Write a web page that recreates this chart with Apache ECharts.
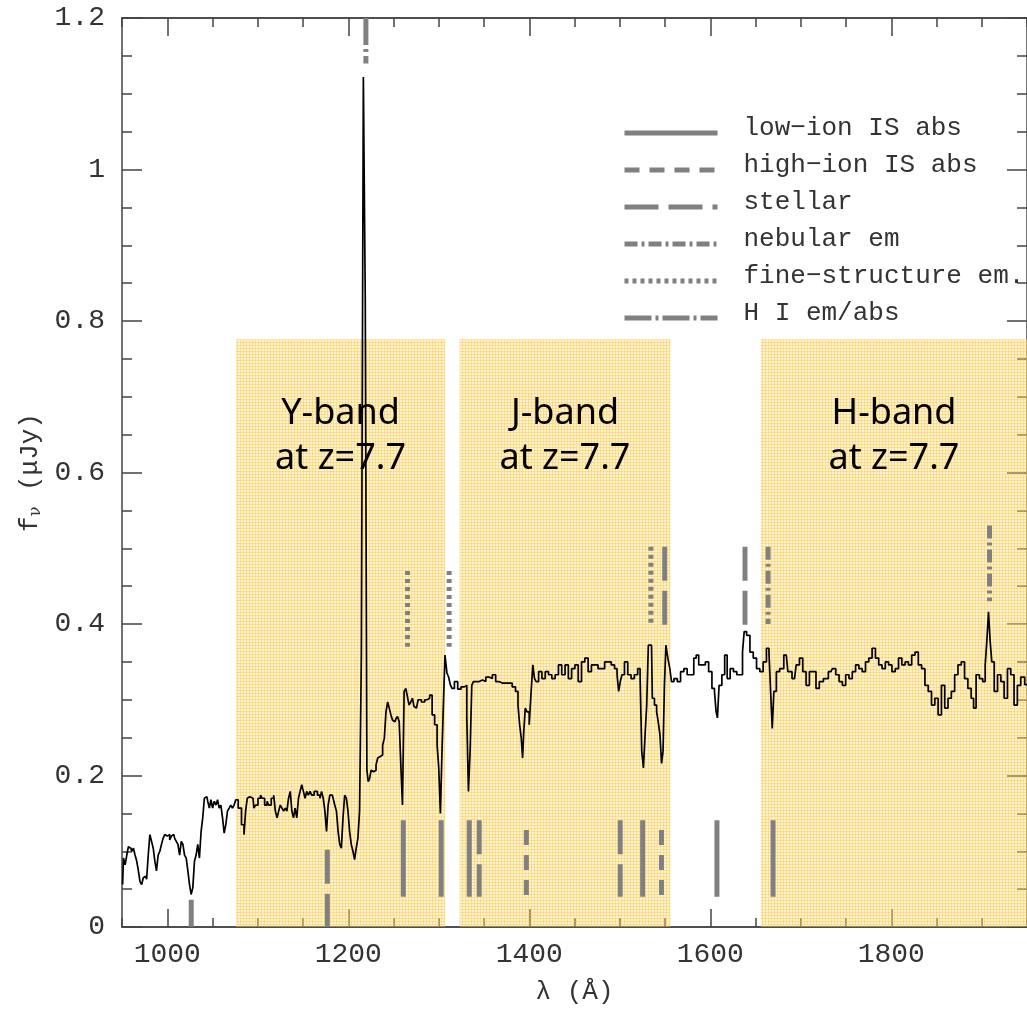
<!DOCTYPE html>
<html>
<head>
<meta charset="utf-8">
<script src="https://cdn.jsdelivr.net/npm/echarts@6/dist/echarts.min.js"></script>
<style>
html, body { margin: 0; padding: 0; background: #fff; overflow: hidden; }
#chart { width: 1027px; height: 1010px; }
</style>
</head>
<body>
<div id="chart"></div>
<script>
// spectrum, [wavelength (Å), f_nu (μJy)]
const spectrum = [
  [950.7,0.056],[952.5,0.091],[954.4,0.082],[956.2,0.095],[958.0,0.106],[959.8,0.104],[961.7,0.100],[963.5,0.104],
  [965.3,0.095],[967.2,0.087],[969.0,0.074],[970.8,0.060],[972.6,0.056],[974.4,0.065],[976.3,0.067],[978.1,0.063],
  [979.9,0.095],[981.7,0.122],[983.6,0.113],[985.4,0.104],[987.2,0.087],[989.0,0.074],[990.9,0.095],[992.7,0.100],
  [994.5,0.109],[996.3,0.117],[998.2,0.122],[1000.0,0.120],[1001.8,0.122],[1003.6,0.115],[1005.5,0.120],[1007.3,0.122],
  [1009.1,0.117],[1010.9,0.113],[1012.7,0.109],[1014.6,0.095],[1016.4,0.113],[1018.2,0.109],[1020.0,0.095],[1021.9,0.091],
  [1023.7,0.074],[1025.5,0.056],[1027.3,0.043],[1029.2,0.052],[1031.0,0.087],[1032.8,0.095],[1034.6,0.109],[1036.5,0.091],
  [1038.3,0.126],[1040.1,0.144],[1041.9,0.170],[1043.8,0.172],[1045.6,0.166],[1047.4,0.157],[1049.2,0.168],[1051.0,0.157],
  [1052.9,0.166],[1054.7,0.161],[1056.5,0.168],[1058.3,0.157],[1060.2,0.161],[1062.0,0.144],[1063.8,0.124],[1065.6,0.135],
  [1067.5,0.153],[1069.3,0.157],[1071.1,0.161],[1072.9,0.157],[1074.8,0.161],[1076.6,0.168],[1080.2,0.157],[1083.9,0.135],
  [1085.7,0.122],[1087.5,0.153],[1089.3,0.170],[1091.2,0.172],[1094.8,0.170],[1096.6,0.157],[1098.5,0.161],[1102.1,0.170],
  [1103.9,0.174],[1105.8,0.170],[1109.4,0.161],[1111.2,0.166],[1113.1,0.161],[1116.7,0.170],[1118.5,0.174],[1120.4,0.153],
  [1122.2,0.144],[1124.0,0.153],[1125.8,0.161],[1127.7,0.157],[1129.5,0.153],[1131.3,0.157],[1133.1,0.153],[1135.0,0.170],
  [1136.8,0.179],[1138.6,0.153],[1140.4,0.144],[1142.2,0.157],[1144.1,0.144],[1145.9,0.170],[1147.7,0.179],[1149.5,0.188],
  [1151.4,0.179],[1153.2,0.170],[1155.0,0.179],[1156.8,0.174],[1158.7,0.179],[1160.5,0.174],[1164.1,0.179],[1167.8,0.174],
  [1169.6,0.170],[1171.4,0.179],[1173.3,0.170],[1175.1,0.153],[1176.9,0.126],[1178.7,0.161],[1180.6,0.174],[1182.4,0.174],
  [1184.2,0.170],[1186.0,0.161],[1187.9,0.153],[1189.7,0.126],[1191.5,0.109],[1193.3,0.104],[1195.1,0.144],[1197.0,0.174],
  [1198.8,0.170],[1200.6,0.153],[1202.4,0.126],[1204.3,0.109],[1206.1,0.100],[1207.9,0.089],[1209.7,0.104],[1211.6,0.117],
  [1213.4,0.153],[1215.6,0.359],[1217.8,1.122],[1219.8,0.830],[1221.4,0.207],[1222.8,0.192],[1224.4,0.196],[1226.2,0.207],
  [1228.0,0.205],[1229.8,0.207],[1231.6,0.214],[1233.5,0.223],[1235.3,0.225],[1237.1,0.227],[1238.9,0.240],[1240.8,0.249],
  [1242.6,0.284],[1244.4,0.297],[1246.2,0.289],[1248.1,0.280],[1249.9,0.273],[1251.7,0.271],[1253.5,0.275],[1255.4,0.278],
  [1257.2,0.271],[1259.0,0.214],[1260.8,0.161],[1262.7,0.311],[1264.5,0.315],[1266.3,0.304],[1268.1,0.293],[1270.0,0.297],
  [1271.8,0.302],[1273.6,0.291],[1275.4,0.289],[1279.0,0.300],[1282.7,0.297],[1286.3,0.300],[1288.1,0.302],[1291.8,0.306],
  [1293.6,0.280],[1297.3,0.267],[1299.1,0.240],[1300.9,0.210],[1302.7,0.150],[1304.5,0.232],[1305.6,0.290],[1308.2,0.359],
  [1310.0,0.335],[1311.8,0.330],[1313.7,0.320],[1315.5,0.315],[1319.1,0.324],[1322.8,0.314],[1326.4,0.317],[1330.1,0.319],
  [1331.9,0.276],[1333.7,0.179],[1335.6,0.232],[1337.4,0.319],[1339.2,0.324],[1342.9,0.324],[1346.5,0.326],[1350.2,0.324],
  [1353.8,0.330],[1357.4,0.328],[1361.1,0.333],[1364.7,0.324],[1368.4,0.322],[1372.0,0.322],[1375.7,0.322],[1379.3,0.322],
  [1383.0,0.317],[1386.6,0.311],[1388.5,0.293],[1390.3,0.267],[1392.1,0.249],[1393.2,0.223],[1394.7,0.258],[1396.5,0.289],
  [1398.7,0.284],[1401.2,0.267],[1403.0,0.311],[1404.9,0.346],[1406.7,0.328],[1408.5,0.324],[1412.2,0.337],[1415.8,0.328],
  [1419.5,0.337],[1423.1,0.333],[1426.8,0.328],[1430.4,0.333],[1434.1,0.346],[1437.7,0.333],[1441.4,0.346],[1445.0,0.328],
  [1448.6,0.341],[1452.3,0.346],[1455.9,0.324],[1459.6,0.350],[1463.2,0.355],[1466.9,0.337],[1470.5,0.346],[1474.2,0.346],
  [1477.8,0.341],[1481.5,0.341],[1485.1,0.350],[1488.8,0.350],[1492.4,0.346],[1496.1,0.341],[1497.9,0.333],[1499.7,0.311],
  [1501.5,0.324],[1503.4,0.333],[1507.0,0.350],[1510.7,0.333],[1514.3,0.328],[1518.0,0.333],[1521.6,0.341],[1523.4,0.328],
  [1525.2,0.232],[1527.1,0.210],[1528.9,0.254],[1530.7,0.293],[1532.5,0.372],[1535.1,0.372],[1536.9,0.302],[1539.8,0.293],
  [1541.7,0.284],[1543.5,0.270],[1545.3,0.254],[1547.1,0.216],[1548.6,0.232],[1550.1,0.319],[1551.9,0.372],[1554.4,0.355],
  [1556.3,0.341],[1558.1,0.324],[1561.7,0.328],[1565.4,0.324],[1569.0,0.337],[1572.7,0.341],[1576.3,0.333],[1580.0,0.333],
  [1583.6,0.355],[1585.4,0.359],[1589.1,0.346],[1592.7,0.346],[1596.4,0.350],[1600.0,0.337],[1603.7,0.315],[1605.6,0.311],
  [1607.4,0.284],[1608.5,0.276],[1611.0,0.319],[1614.7,0.333],[1617.2,0.359],[1620.2,0.328],[1623.8,0.341],[1627.5,0.337],
  [1631.1,0.333],[1634.7,0.333],[1636.6,0.363],[1638.4,0.390],[1642.0,0.385],[1645.7,0.363],[1649.3,0.355],[1653.0,0.341],
  [1656.6,0.337],[1660.3,0.350],[1663.9,0.368],[1665.8,0.363],[1667.6,0.311],[1669.4,0.262],[1671.2,0.311],[1674.9,0.337],
  [1678.5,0.341],[1684.0,0.359],[1687.6,0.337],[1693.1,0.328],[1696.8,0.346],[1700.4,0.355],[1704.1,0.337],[1707.7,0.319],
  [1711.4,0.337],[1715.0,0.337],[1718.7,0.315],[1722.3,0.324],[1727.8,0.328],[1733.2,0.337],[1736.9,0.341],[1740.5,0.333],
  [1744.2,0.324],[1747.8,0.319],[1751.5,0.333],[1755.1,0.328],[1758.8,0.337],[1762.4,0.346],[1766.1,0.341],[1769.7,0.337],
  [1773.4,0.350],[1777.0,0.355],[1780.7,0.368],[1784.3,0.355],[1788.0,0.346],[1791.6,0.341],[1795.3,0.350],[1798.9,0.346],
  [1802.6,0.337],[1806.2,0.341],[1809.9,0.355],[1813.5,0.346],[1817.1,0.350],[1820.8,0.346],[1824.4,0.359],[1828.1,0.363],
  [1831.7,0.346],[1835.4,0.341],[1839.0,0.319],[1842.7,0.311],[1846.3,0.293],[1850.0,0.302],[1853.6,0.280],[1857.3,0.319],
  [1860.9,0.289],[1864.6,0.302],[1868.2,0.311],[1871.9,0.333],[1875.5,0.346],[1879.2,0.350],[1882.8,0.328],[1886.5,0.315],
  [1890.1,0.302],[1891.9,0.289],[1895.6,0.333],[1899.2,0.328],[1902.9,0.324],[1904.7,0.346],[1906.5,0.377],[1908.4,0.416],
  [1910.2,0.377],[1912.0,0.350],[1915.6,0.311],[1919.3,0.333],[1922.9,0.324],[1926.6,0.302],[1930.2,0.341],[1933.9,0.333],
  [1937.5,0.293],[1941.2,0.319],[1945.0,0.330],[1950.0,0.320]
];

// line identifications, [wavelength, lower f, upper f]
const lowIonAbs = [[1260.8,0.04,0.141],[1302.7,0.04,0.141],[1333.7,0.04,0.141],[1525.3,0.04,0.141],[1607.4,0.04,0.141],[1669.4,0.04,0.141]];
const highIonAbs = [[1396.8,0.04,0.128],[1546.1,0.04,0.128]];
const stellarLines = [[1176.9,0,0.102],[1344.7,0.04,0.141],[1500.5,0.04,0.141],[1549.7,0.398,0.502],[1638.4,0.398,0.502]];
const nebularEm = [[1663.9,0.40,0.502],[1908.6,0.43,0.53]];
const fineStructEm = [[1265.5,0.37,0.47],[1311.5,0.37,0.47],[1534.4,0.398,0.502]];
const hiEmAbs = [[1026.5,0,0.036],[1219.5,1.14,1.2]];

// filter bands
const bandNames = ['Y-band', 'J-band', 'H-band'];
const bandFrom = [1076, 1323, 1656];
const bandTo = [1307, 1556, 1950];
const bandTop = 0.776;
const bandNote = 'at z=7.7';

// axis ticks
const xMajorTicks = [1000, 1200, 1400, 1600, 1800];
const xMinorTicks = [950, 1000, 1050, 1100, 1150, 1200, 1250, 1300, 1350, 1400, 1450, 1500,
  1550, 1600, 1650, 1700, 1750, 1800, 1850, 1900, 1950];

const MONO = '"Liberation Mono", "DejaVu Sans Mono", monospace';
const AXIS = '#444';

// fine dotted yellow texture used for the filter bands
function bandTexture() {
  const c = document.createElement('canvas');
  c.width = 3; c.height = 3;
  const g = c.getContext('2d');
  g.fillStyle = 'rgba(252,216,115,0.32)';
  g.fillRect(0, 0, 3, 3);
  g.fillStyle = 'rgba(248,195,50,0.40)';
  g.fillRect(0, 0, 3, 1);
  g.fillRect(0, 0, 1, 3);
  return c;
}

function segments(list) {
  const out = [];
  list.forEach(function (l) {
    out.push([l[0], l[2]], [l[0], l[1]], [l[0], '-']);
  });
  return out;
}

function featureSeries(name, list, dash) {
  return {
    name: name,
    type: 'line',
    data: segments(list),
    symbol: 'none',
    showSymbol: false,
    connectNulls: false,
    silent: true,
    z: 2,
    lineStyle: { color: '#808080', width: 5, type: dash, cap: 'butt' }
  };
}

function xAx(pos, ticks, len, withLabels) {
  return {
    type: 'value', min: 950, max: 1950, position: pos,
    axisLine: { show: withLabels !== null, lineStyle: { color: AXIS, width: 1.5 } },
    axisTick: { inside: true, length: len, customValues: ticks, lineStyle: { color: AXIS, width: 1.5 } },
    axisLabel: withLabels ? {
      customValues: xMajorTicks, fontFamily: MONO, fontSize: 28, color: '#333', margin: 14,
      formatter: function (v) { return String(v); }
    } : { show: false },
    splitLine: { show: false }
  };
}

const bandData = bandNames.map(function (n, i) {
  return [{ name: n, xAxis: bandFrom[i], yAxis: 0 }, { xAxis: bandTo[i], yAxis: bandTop }];
});

const chart = echarts.init(document.getElementById('chart'));

const bottomMajor = xAx('bottom', xMajorTicks, 18, true);
bottomMajor.name = 'λ (Å)';
bottomMajor.nameLocation = 'middle';
bottomMajor.nameGap = 52;
bottomMajor.nameTextStyle = { fontFamily: MONO, fontSize: 26, color: '#333' };

chart.setOption({
  backgroundColor: '#fff',
  animation: false,
  grid: { left: 122, top: 18, width: 913, height: 911 },
  legend: {
    data: ['low−ion IS abs', 'high−ion IS abs', 'stellar', 'nebular em', 'fine−structure em.', 'H I em/abs'],
    orient: 'vertical',
    left: 622,
    top: 115,
    padding: 0,
    itemWidth: 93,
    itemHeight: 14,
    itemGap: 6,
    selectedMode: false,
    itemStyle: { opacity: 0 },
    lineStyle: { width: 5, color: '#808080' },
    // the empty second line lifts the label a little above its key line
    formatter: function (name) { return '{t|' + name + '}\n{g| }'; },
    textStyle: {
      fontFamily: MONO, fontSize: 26, color: '#333',
      rich: {
        t: { fontFamily: MONO, fontSize: 26, color: '#333', lineHeight: 24, padding: [0, 0, 0, 21] },
        g: { fontSize: 2, lineHeight: 10 }
      }
    }
  },
  xAxis: [
    bottomMajor,
    xAx('bottom', xMinorTicks, 9, false),
    xAx('top', xMajorTicks, 18, false),
    xAx('top', xMinorTicks, 9, false)
  ],
  yAxis: [
    {
      type: 'value', min: 0, max: 1.2, interval: 0.2, position: 'left',
      axisLine: { show: true, lineStyle: { color: AXIS, width: 1.5 } },
      axisTick: { inside: true, length: 20, lineStyle: { color: AXIS, width: 1.5 } },
      minorTick: { show: true, splitNumber: 4, length: 10, lineStyle: { color: AXIS, width: 1.5 } },
      axisLabel: { fontFamily: MONO, fontSize: 28, color: '#333', margin: 17 },
      splitLine: { show: false },
      name: '{a|f}{s|ν}{a| (μJy)}',
      nameLocation: 'middle',
      nameGap: 72,
      nameTextStyle: {
        rich: {
          a: { fontFamily: MONO, fontSize: 26, color: '#333' },
          s: { fontFamily: '"DejaVu Serif", serif', fontSize: 16, color: '#333', padding: [12, 0, 0, 0] }
        }
      }
    },
    {
      type: 'value', min: 0, max: 1.2, interval: 0.2, position: 'right',
      axisLine: { show: true, lineStyle: { color: AXIS, width: 1.5 } },
      axisTick: { inside: true, length: 20, lineStyle: { color: AXIS, width: 1.5 } },
      minorTick: { show: true, splitNumber: 4, length: 10, lineStyle: { color: AXIS, width: 1.5 } },
      axisLabel: { show: false },
      splitLine: { show: false }
    }
  ],
  series: [
    {
      name: 'spectrum',
      type: 'line',
      data: spectrum,
      step: 'middle',
      symbol: 'none',
      showSymbol: false,
      silent: true,
      z: 3,
      lineStyle: { color: '#000', width: 1.7 }
    },
    featureSeries('low−ion IS abs', lowIonAbs, 'solid'),
    featureSeries('high−ion IS abs', highIonAbs, [15, 10]),
    featureSeries('stellar', stellarLines, [34, 10]),
    featureSeries('nebular em', nebularEm, [13, 4, 3, 4]),
    featureSeries('fine−structure em.', fineStructEm, [4, 4]),
    featureSeries('H I em/abs', hiEmAbs, [27, 4, 3, 4]),
    {
      name: 'bands',
      type: 'line',
      data: [],
      silent: true,
      z: 5,
      markArea: {
        silent: true,
        itemStyle: { color: { image: bandTexture(), repeat: 'repeat' } },
        label: {
          show: true,
          position: 'insideTop',
          distance: 52,
          formatter: function (p) { return p.name + '\n' + bandNote; },
          fontFamily: '"Noto Sans", sans-serif',
          fontSize: 36,
          lineHeight: 45,
          color: '#000',
          align: 'center'
        },
        data: bandData
      }
    }
  ]
});
</script>
</body>
</html>
